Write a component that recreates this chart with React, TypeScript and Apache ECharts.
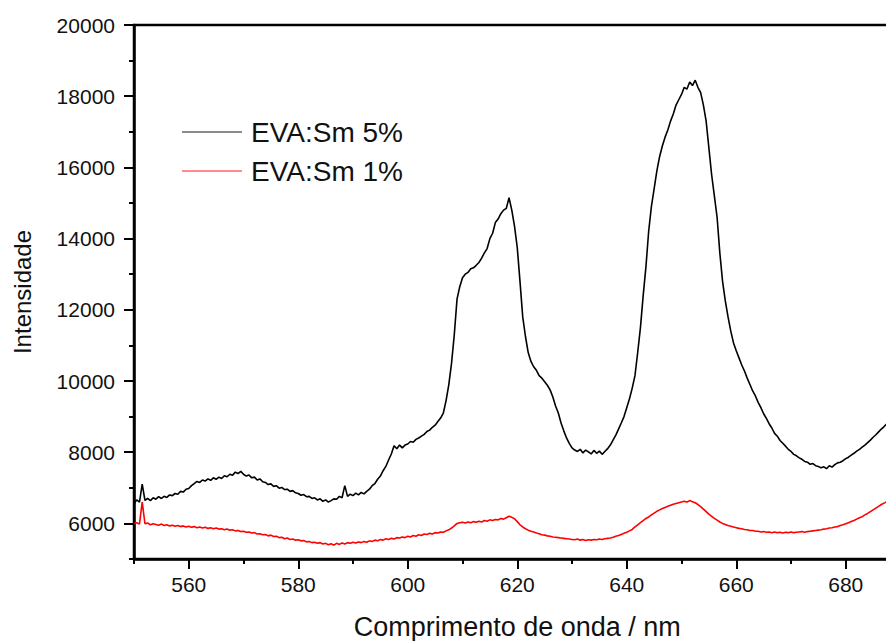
import React, { useEffect, useRef } from "react";
import * as echarts from "echarts";

// Wavelength grid of the spectra (nm)
const WL_START = 550;
const WL_STEP = 0.5;

// EVA:Sm 5% intensities, 550 → 688 nm, every 0.5 nm
const EVA_SM5: number[] = [
  6550, 6660, 6600, 7100, 6650, 6700, 6640, 6720, 6680, 6750, 6700, 6760, 6730, 6800, 6780, 6840, 6820, 6900, 6880, 6960,
  6980, 7060, 7120, 7180, 7150, 7220, 7190, 7250, 7210, 7280, 7240, 7300, 7260, 7340, 7310, 7380, 7350, 7440, 7400, 7460,
  7380, 7330, 7360, 7280, 7300, 7220, 7250, 7170, 7150, 7090, 7110, 7040, 7060, 6990, 7010, 6950, 6960, 6900, 6920, 6860,
  6840, 6790, 6810, 6750, 6760, 6700, 6720, 6660, 6690, 6620, 6660, 6600, 6640, 6690, 6680, 6760, 6720, 7060, 6760, 6820,
  6780, 6850, 6800, 6870, 6830, 6900, 6960, 7060, 7120, 7240, 7330, 7480, 7600, 7780, 7950, 8180, 8100, 8200, 8120, 8200,
  8230, 8300, 8280, 8360, 8400, 8450, 8500, 8580, 8620, 8700, 8760, 8860, 8960, 9100, 9450, 9900, 10500, 11300, 12300, 12650,
  12900, 13000, 13050, 13150, 13180, 13250, 13330, 13450, 13600, 13720, 14000, 14150, 14450, 14550, 14700, 14800, 14850, 15150, 14800, 14350,
  13750, 12800, 11800, 11250, 10800, 10550, 10400, 10300, 10150, 10080, 9980, 9880, 9750, 9550, 9300, 9100, 8820, 8600, 8400, 8250,
  8120, 8060, 8020, 8080, 7980, 8060, 8010, 7950, 8050, 7970, 8030, 7940, 8020, 8100, 8200, 8340, 8480, 8650, 8820, 9000,
  9250, 9500, 9800, 10150, 10800, 11500, 12400, 13200, 14200, 14900, 15400, 15900, 16300, 16600, 16850, 17050, 17300, 17500, 17750, 17900,
  18050, 18250, 18200, 18400, 18300, 18450, 18250, 18100, 17750, 17300, 16550, 15800, 15200, 14600, 13600, 12800, 12250, 11800, 11400, 11070,
  10850, 10650, 10450, 10280, 10080, 9900, 9720, 9580, 9400, 9250, 9080, 8950, 8800, 8680, 8530, 8450, 8330, 8250, 8170, 8080,
  8020, 7940, 7900, 7840, 7800, 7740, 7720, 7660, 7680, 7620, 7600, 7560, 7590, 7540, 7620, 7580, 7650, 7700, 7720, 7760,
  7820, 7860, 7920, 7970, 8030, 8080, 8140, 8200, 8270, 8340, 8420, 8490, 8570, 8650, 8720, 8800, 8850,
];

// EVA:Sm 1% intensities, 550 → 688 nm, every 0.5 nm
const EVA_SM1: number[] = [
  6000, 6020, 5980, 6600, 5990, 6010, 5960, 5990, 5970, 5950, 5980, 5940, 5960, 5930, 5950, 5920, 5940, 5910, 5930, 5900,
  5920, 5890, 5910, 5880, 5900, 5870, 5890, 5860, 5880, 5850, 5870, 5840, 5850, 5820, 5840, 5810, 5820, 5790, 5800, 5770,
  5780, 5750, 5760, 5730, 5740, 5700, 5710, 5680, 5690, 5650, 5670, 5630, 5640, 5600, 5610, 5570, 5590, 5550, 5560, 5530,
  5540, 5510, 5520, 5480, 5490, 5460, 5470, 5440, 5460, 5420, 5440, 5400, 5430, 5390, 5440, 5410, 5450, 5420, 5460, 5440,
  5470, 5450, 5480, 5460, 5490, 5470, 5510, 5490, 5530, 5510, 5550, 5530, 5570, 5550, 5580, 5560, 5600, 5590, 5620, 5600,
  5640, 5620, 5660, 5640, 5680, 5660, 5700, 5690, 5720, 5700, 5740, 5730, 5760, 5750, 5790, 5820, 5870, 5930, 6000, 6020,
  6030, 6010, 6040, 6020, 6050, 6030, 6060, 6040, 6080, 6060, 6100, 6080, 6110, 6100, 6140, 6120, 6160, 6200, 6170, 6130,
  6050, 5960, 5900, 5850, 5810, 5780, 5760, 5730, 5710, 5680, 5670, 5650, 5640, 5620, 5610, 5600, 5590, 5580, 5570, 5560,
  5550, 5540, 5560, 5530, 5550, 5520, 5540, 5530, 5550, 5540, 5560, 5550, 5570, 5580, 5590, 5610, 5640, 5660, 5690, 5720,
  5750, 5790, 5830, 5900, 5960, 6020, 6080, 6140, 6180, 6240, 6290, 6340, 6380, 6420, 6450, 6480, 6510, 6540, 6560, 6580,
  6600, 6620, 6600, 6640, 6610, 6580, 6530, 6470, 6400, 6330, 6260, 6200, 6140, 6090, 6040, 6000, 5970, 5940, 5920, 5900,
  5880, 5860, 5850, 5830, 5820, 5800, 5800, 5780, 5780, 5760, 5770, 5750, 5760, 5740, 5760, 5740, 5750, 5730, 5750, 5740,
  5760, 5740, 5750, 5760, 5770, 5750, 5770, 5780, 5790, 5800, 5810, 5820, 5840, 5850, 5870, 5880, 5900, 5910, 5940, 5960,
  5990, 6020, 6050, 6080, 6120, 6160, 6190, 6240, 6280, 6330, 6380, 6430, 6480, 6530, 6570, 6610, 6640,
];

const SERIES_NAMES = ["EVA:Sm 5%", "EVA:Sm 1%"];
const X_MAJOR = [560, 580, 600, 620, 640, 660, 680];
const X_MINOR = [550, 570, 590, 610, 630, 650, 670];
const Y_MAJOR = [6000, 8000, 10000, 12000, 14000, 16000, 18000, 20000];
const Y_MINOR = [5000, 7000, 9000, 11000, 13000, 15000, 17000, 19000];

const FONT = "'Liberation Sans', Arial, Helvetica, sans-serif";

function toPairs(values: number[]): [number, number][] {
  return values.map((v, i) => [WL_START + i * WL_STEP, v]);
}

export default function App() {
  const ref = useRef<HTMLDivElement>(null);

  useEffect(() => {
    if (!ref.current) return;
    const chart = echarts.init(ref.current, null, { renderer: "svg" });
    const axisLine = { show: true, lineStyle: { color: "#000", width: 2.5 } };
    const option: any = {
      animation: false,
      backgroundColor: "#fff",
      grid: {
        left: 134,
        top: 25,
        right: -14.5,
        bottom: 82,
        show: true,
        borderColor: "#000",
        borderWidth: 2.5,
        backgroundColor: "transparent",
        containLabel: false,
        outerBoundsMode: "none",
      },
      legend: {
        show: true,
        orient: "vertical",
        left: 177,
        top: 113,
        icon: "rect",
        itemWidth: 60,
        itemHeight: 2,
        itemGap: 11,
        textStyle: {
          fontFamily: FONT,
          fontSize: 28,
          color: "#111",
          lineHeight: 28,
          padding: [0, 0, 0, 4],
        },
        data: [
          { name: SERIES_NAMES[0], itemStyle: { color: "#8a8a8a" } },
          { name: SERIES_NAMES[1], itemStyle: { color: "#ff8c8c" } },
        ],
      },
      xAxis: [
        {
          type: "value",
          position: "bottom",
          min: 550,
          max: 690,
          name: "Comprimento de onda / nm",
          nameLocation: "middle",
          nameGap: 54,
          nameMoveOverlap: false,
          nameTextStyle: { fontFamily: FONT, fontSize: 27, color: "#111" },
          axisLine,
          axisTick: {
            show: true,
            inside: false,
            length: 10,
            customValues: X_MAJOR,
            lineStyle: { color: "#000", width: 2 },
          },
          axisLabel: {
            show: true,
            customValues: X_MAJOR,
            margin: 15,
            fontFamily: FONT,
            fontSize: 21,
            color: "#111",
            formatter: (v: number) => String(v),
          },
          splitLine: { show: false },
        },
        {
          type: "value",
          position: "bottom",
          min: 550,
          max: 690,
          axisLine: { show: false },
          axisTick: {
            show: true,
            inside: false,
            length: 5,
            customValues: X_MINOR,
            lineStyle: { color: "#000", width: 2 },
          },
          axisLabel: { show: false },
          splitLine: { show: false },
        },
      ],
      yAxis: [
        {
          type: "value",
          position: "left",
          min: 5000,
          max: 20000,
          name: "Intensidade",
          nameLocation: "middle",
          nameGap: 100,
          nameMoveOverlap: false,
          nameTextStyle: { fontFamily: FONT, fontSize: 24, color: "#111" },
          axisLine,
          axisTick: {
            show: true,
            inside: false,
            length: 10,
            customValues: Y_MAJOR,
            lineStyle: { color: "#000", width: 2 },
          },
          axisLabel: {
            show: true,
            customValues: Y_MAJOR,
            margin: 19,
            fontFamily: FONT,
            fontSize: 21,
            color: "#111",
            formatter: (v: number) => String(v),
          },
          splitLine: { show: false },
        },
        {
          type: "value",
          position: "left",
          min: 5000,
          max: 20000,
          axisLine: { show: false },
          axisTick: {
            show: true,
            inside: false,
            length: 5,
            customValues: Y_MINOR,
            lineStyle: { color: "#000", width: 2 },
          },
          axisLabel: { show: false },
          splitLine: { show: false },
        },
      ],
      series: [
        {
          name: SERIES_NAMES[0],
          type: "line",
          xAxisIndex: 0,
          yAxisIndex: 0,
          data: toPairs(EVA_SM5),
          showSymbol: false,
          symbol: "none",
          lineStyle: { color: "#000", width: 1.6 },
          itemStyle: { color: "#000" },
          z: 3,
        },
        {
          name: SERIES_NAMES[1],
          type: "line",
          xAxisIndex: 0,
          yAxisIndex: 0,
          data: toPairs(EVA_SM1),
          showSymbol: false,
          symbol: "none",
          lineStyle: { color: "#ff0000", width: 1.6 },
          itemStyle: { color: "#ff0000" },
          z: 2,
        },
      ],
    };
    chart.setOption(option);
    return () => chart.dispose();
  }, []);

  return (
    <div
      ref={ref}
      style={{ position: "fixed", left: 0, top: 0, width: 886, height: 641, background: "#fff" }}
    />
  );
}
